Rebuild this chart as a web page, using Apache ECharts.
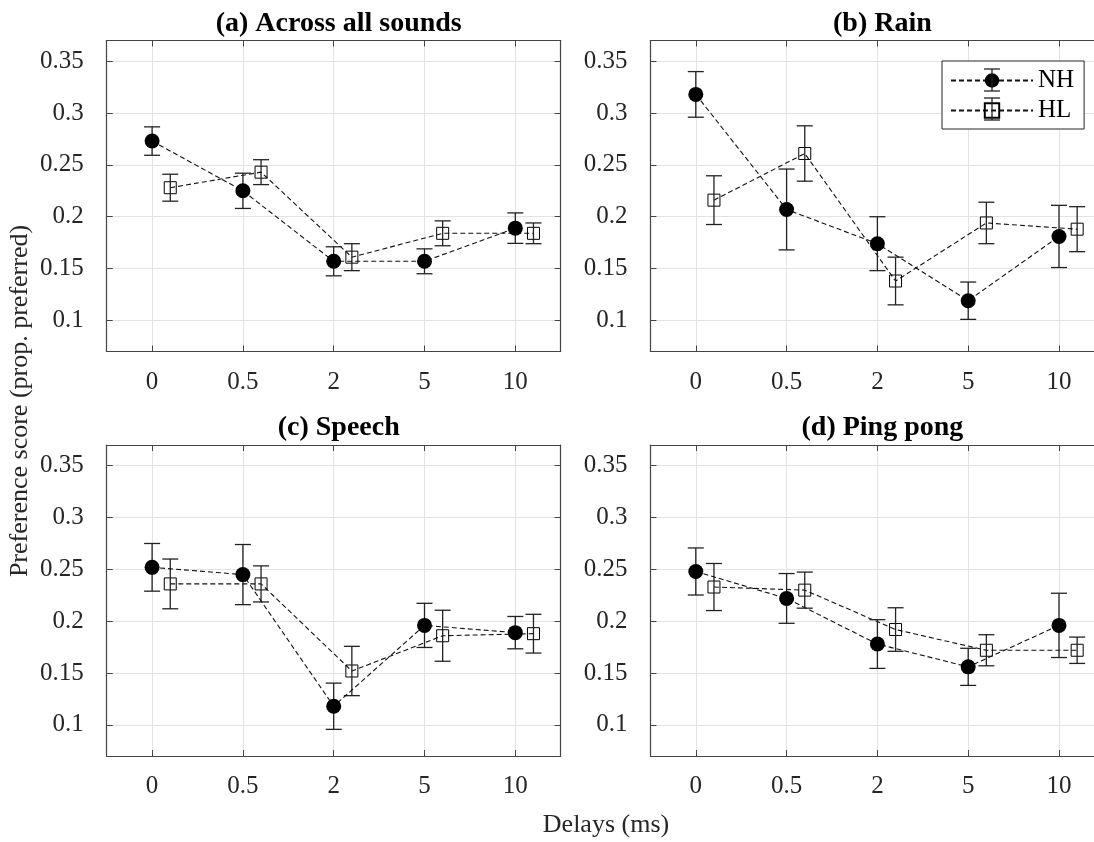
<!DOCTYPE html>
<html>
<head>
<meta charset="utf-8">
<script src="https://cdn.jsdelivr.net/npm/echarts@6/dist/echarts.min.js"></script>
<style>
  html, body { margin: 0; padding: 0; background: #fff; }
  #chart { width: 1094px; height: 842px; }
</style>
</head>
<body>
<div id="chart"></div>
<script>
// ---------------- data ----------------
const delays = ['0', '0.5', '2', '5', '10'];
const yTicks = [0.1, 0.15, 0.2, 0.25, 0.3, 0.35];
const panelTitles = ['(a) Across all sounds', '(b) Rain', '(c) Speech', '(d) Ping pong'];

const nhA = [0.273, 0.225, 0.157, 0.157, 0.189];
const nhErrA = [0.0137, 0.017, 0.014, 0.012, 0.0147];
const hlA = [0.228, 0.243, 0.161, 0.184, 0.184];
const hlErrA = [0.013, 0.012, 0.013, 0.012, 0.010];

const nhB = [0.318, 0.207, 0.174, 0.119, 0.181];
const nhErrB = [0.022, 0.039, 0.026, 0.018, 0.030];
const hlB = [0.216, 0.261, 0.138, 0.194, 0.188];
const hlErrB = [0.0235, 0.0267, 0.023, 0.020, 0.0217];

const nhC = [0.252, 0.245, 0.118, 0.196, 0.189];
const nhErrC = [0.023, 0.029, 0.0223, 0.0213, 0.0156];
const hlC = [0.236, 0.236, 0.152, 0.186, 0.188];
const hlErrC = [0.024, 0.0174, 0.0238, 0.0246, 0.0187];

const nhD = [0.248, 0.222, 0.178, 0.156, 0.196];
const nhErrD = [0.0227, 0.024, 0.0235, 0.0179, 0.031];
const hlD = [0.233, 0.230, 0.192, 0.172, 0.172];
const hlErrD = [0.0227, 0.0174, 0.021, 0.015, 0.0127];

// ---------------- layout / style ----------------
const FONT = 'Liberation Serif, Times New Roman, serif';
const panels = [
  { nh: nhA, nhErr: nhErrA, hl: hlA, hlErr: hlErrA },
  { nh: nhB, nhErr: nhErrB, hl: hlB, hlErr: hlErrB },
  { nh: nhC, nhErr: nhErrC, hl: hlC, hlErr: hlErrC },
  { nh: nhD, nhErr: nhErrD, hl: hlD, hlErr: hlErrD }
];
const gridPos = [
  { left: 106.7, top: 40.5 },
  { left: 650.4, top: 40.5 },
  { left: 106.7, top: 445 },
  { left: 650.4, top: 445 }
];
const GW = 454, GH = 311;
const HL_OFFSET = 0.2;
const tickIdx = delays.map((d, i) => i);
const frameColor = '#444';
const gridColor = '#e3e3e3';
const DASH = [5, 3];

const grids = gridPos.map(p => ({
  left: p.left, top: p.top, width: GW, height: GH,
  containLabel: false, outerBoundsMode: 'none'
}));

const xAxes = [];
const yAxes = [];
gridPos.forEach((p, g) => {
  const baseX = {
    type: 'value', gridIndex: g, min: -0.5, max: 4.5,
    axisLine: { show: true, onZero: false, lineStyle: { color: frameColor, width: 1.2 } },
    axisTick: { show: true, inside: true, length: 6, customValues: tickIdx, lineStyle: { color: frameColor, width: 1 } },
    axisLabel: { show: true, customValues: tickIdx, margin: 18, fontFamily: FONT, fontSize: 25, color: '#262626',
      formatter: v => delays[Math.round(v)] },
    splitLine: { show: true, lineStyle: { color: gridColor, width: 1 } }
  };
  xAxes.push(baseX);
  xAxes.push(Object.assign({}, baseX, {
    position: 'top', axisLabel: { show: false }, splitLine: { show: false }
  }));
  const baseY = {
    type: 'value', gridIndex: g, min: 0.07, max: 0.37,
    axisLine: { show: true, onZero: false, lineStyle: { color: frameColor, width: 1.2 } },
    axisTick: { show: true, inside: true, length: 6, customValues: yTicks, lineStyle: { color: frameColor, width: 1 } },
    axisLabel: { show: true, customValues: yTicks, margin: 23, fontFamily: FONT, fontSize: 25, color: '#262626',
      formatter: v => String(+v.toFixed(2)) },
    splitLine: { show: true, lineStyle: { color: gridColor, width: 1 } }
  };
  yAxes.push(baseY);
  yAxes.push(Object.assign({}, baseY, {
    position: 'right', axisLabel: { show: false }, splitLine: { show: false }
  }));
});

function renderErr(params, api) {
  const x = api.value(0), lo = api.value(1), hi = api.value(2);
  const a = api.coord([x, hi]);
  const b = api.coord([x, lo]);
  const w = 8;
  const st = { stroke: '#222', lineWidth: 1.3, fill: null };
  return {
    type: 'group',
    children: [
      { type: 'line', shape: { x1: a[0], y1: a[1], x2: b[0], y2: b[1] }, style: st },
      { type: 'line', shape: { x1: a[0] - w, y1: a[1], x2: a[0] + w, y2: a[1] }, style: st },
      { type: 'line', shape: { x1: b[0] - w, y1: b[1], x2: b[0] + w, y2: b[1] }, style: st }
    ]
  };
}

const series = [];
panels.forEach((p, g) => {
  const xi = g * 2, yi = g * 2;
  const nhPts = p.nh.map((v, i) => [i, v]);
  const hlPts = p.hl.map((v, i) => [i + HL_OFFSET, v]);
  series.push({
    type: 'custom', name: 'NH-err', xAxisIndex: xi, yAxisIndex: yi, z: 3, silent: true,
    renderItem: renderErr, encode: { x: 0, y: [1, 2] },
    data: p.nh.map((v, i) => [i, v - p.nhErr[i], v + p.nhErr[i]])
  });
  series.push({
    type: 'custom', name: 'HL-err', xAxisIndex: xi, yAxisIndex: yi, z: 3, silent: true,
    renderItem: renderErr, encode: { x: 0, y: [1, 2] },
    data: p.hl.map((v, i) => [i + HL_OFFSET, v - p.hlErr[i], v + p.hlErr[i]])
  });
  series.push({
    type: 'line', name: 'NH', xAxisIndex: xi, yAxisIndex: yi, z: 4,
    data: nhPts, symbol: 'circle', symbolSize: 15, showSymbol: true, animation: false,
    itemStyle: { color: '#000' },
    lineStyle: { color: '#111', width: 1.1, type: DASH }
  });
  series.push({
    type: 'line', name: 'HL', xAxisIndex: xi, yAxisIndex: yi, z: 2,
    data: hlPts, symbol: 'rect', symbolSize: 12, showSymbol: true, animation: false,
    itemStyle: { color: 'rgba(0,0,0,0)', borderColor: '#000', borderWidth: 1 },
    lineStyle: { color: '#111', width: 1.1, type: DASH }
  });
});

const titles = panelTitles.map((t, g) => ({
  text: t,
  left: gridPos[g].left + GW / 2,
  top: g < 2 ? 4.3 : 408.6,
  textAlign: 'center',
  textStyle: { fontFamily: FONT, fontWeight: 'bold', fontSize: 28, color: '#000' }
}));

// legend geometry (used for the whisker glyphs drawn on the legend icons)
const LEG = { left: 942, top: 61, padL: 8, padT: 7, itemW: 82, rowH: 24, gap: 5 };
const legCx = LEG.left + LEG.padL + LEG.itemW / 2 + 1;
const legRows = [LEG.top + LEG.padT + LEG.rowH / 2, LEG.top + LEG.padT + LEG.rowH + LEG.gap + LEG.rowH / 2];
const legWhisk = [];
legRows.forEach(cy => {
  const st = { stroke: '#222', lineWidth: 1.3 };
  legWhisk.push({ type: 'line', z: 100, shape: { x1: legCx, y1: cy - 11, x2: legCx, y2: cy + 11 }, style: st });
  legWhisk.push({ type: 'line', z: 100, shape: { x1: legCx - 8, y1: cy - 11, x2: legCx + 8, y2: cy - 11 }, style: st });
  legWhisk.push({ type: 'line', z: 100, shape: { x1: legCx - 8, y1: cy + 11, x2: legCx + 8, y2: cy + 11 }, style: st });
});

const option = {
  backgroundColor: '#fff',
  animation: false,
  title: titles,
  grid: grids,
  xAxis: xAxes,
  yAxis: yAxes,
  legend: {
    data: ['NH', 'HL'],
    orient: 'vertical',
    left: LEG.left, top: LEG.top,
    padding: [LEG.padT, 10, 6, LEG.padL],
    itemGap: LEG.gap,
    itemWidth: LEG.itemW,
    itemHeight: 18,
    selectedMode: false,
    backgroundColor: '#fff',
    borderColor: '#262626',
    borderWidth: 1,
    borderRadius: 0,
    textStyle: { fontFamily: FONT, fontSize: 25, color: '#000' }
  },
  graphic: [
    {
      type: 'text', x: 20, y: 401, rotation: Math.PI / 2,
      style: { text: 'Preference score (prop. preferred)', font: '26px ' + FONT, fill: '#262626',
        textAlign: 'center', textVerticalAlign: 'middle' }
    },
    {
      type: 'text', x: 606, y: 825,
      style: { text: 'Delays (ms)', font: '26px ' + FONT, fill: '#262626',
        textAlign: 'center', textVerticalAlign: 'middle' }
    }
  ].concat(legWhisk),
  series: series
};

const chart = echarts.init(document.getElementById('chart'), null, { renderer: 'canvas' });
chart.setOption(option);
</script>
</body>
</html>
